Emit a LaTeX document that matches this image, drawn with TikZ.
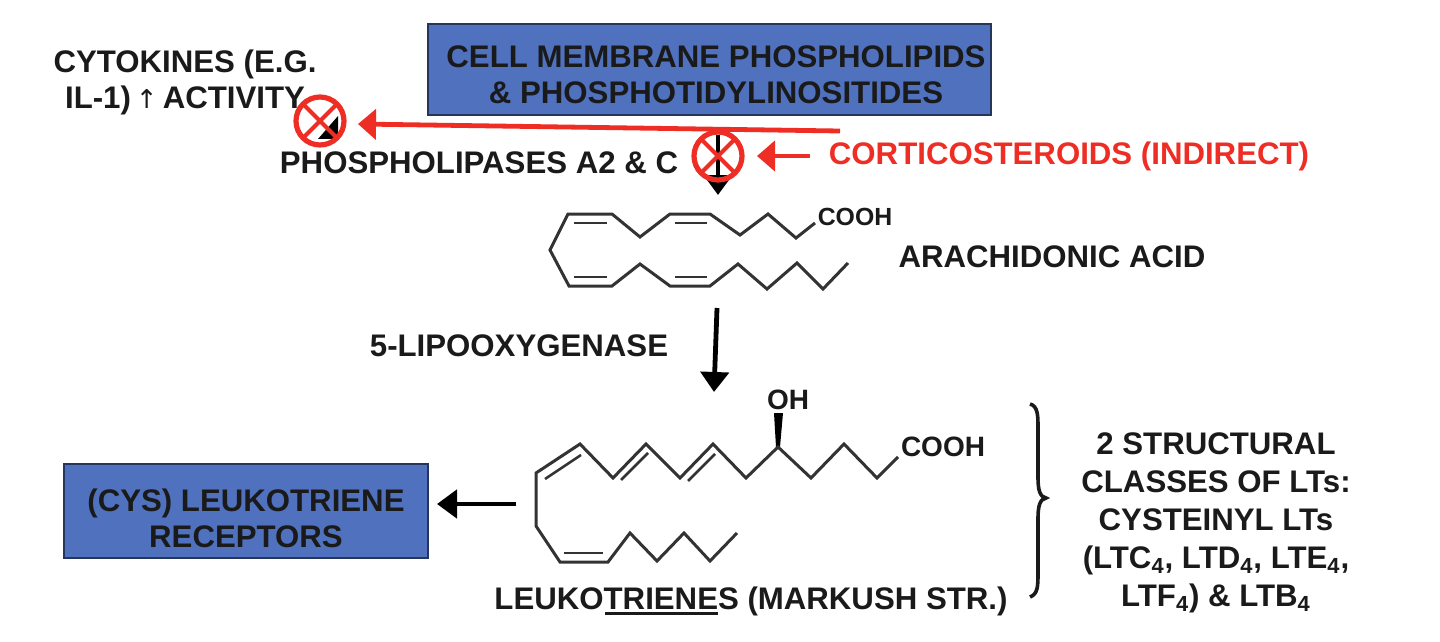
\documentclass[tikz,border=0pt]{standalone}
\usepackage{fontspec}
\setmainfont{Liberation Sans}[BoldFont={Liberation Sans Bold}]
\usetikzlibrary{arrows.meta}
\definecolor{boxblue}{HTML}{4F71BE}
\definecolor{boxedge}{HTML}{25355C}
\definecolor{inhib}{HTML}{EE2E24}
\definecolor{ink}{HTML}{1A1A1A}
\definecolor{bondc}{HTML}{333333}
\tikzset{
  lbl/.style={inner sep=0pt,outer sep=0pt,text=ink,font=\bfseries\fontsize{15.6}{18}\selectfont,align=center},
  bluebox/.style={draw=boxedge,line width=1.2pt,fill=boxblue,inner sep=0pt,outer sep=0pt},
  redlbl/.style={lbl,text=inhib},
  chem/.style={inner sep=0pt,outer sep=0pt,text=ink,font=\bfseries\fontsize{12.4}{14}\selectfont},
  bond/.style={draw=bondc,line width=1.5pt,line join=miter},
  blockmark/.style={circle,draw=inhib,line width=2.6pt,minimum size=24pt,inner sep=0pt,outer sep=0pt},
  redarrow/.style={draw=inhib,line width=2.4pt,-{Triangle[length=9pt,width=15pt]}},
  blackarrow/.style={draw=black,line width=2.4pt,-{Triangle[length=10pt,width=14pt]}},
  crossbar/.style={draw=inhib,line width=2pt},
}
\begin{document}
\begin{tikzpicture}[x=0.5pt,y=-0.5pt]
\useasboundingbox[fill=white] (0,0) rectangle (1440,642);

% boxes
\path[bluebox] (428,24) rectangle (991,115);
\node[lbl] (membrane) at (716,75) {CELL MEMBRANE PHOSPHOLIPIDS\\\& PHOSPHOTIDYLINOSITIDES};
\path[bluebox] (64,464) rectangle (428,558);
\node[lbl] (receptors) at (246,518) {(CYS) LEUKOTRIENE\\RECEPTORS};

% labels
\node[lbl] (cytokines) at (185,82) {CYTOKINES (E.G.\\IL-1)\hspace{2.5pt}{\normalfont\fontspec{DejaVu Sans}\fontsize{13}{14}\selectfont ↑}\hspace{2.5pt}ACTIVITY};
\node[lbl] (plases) at (479,163) {PHOSPHOLIPASES A2 \& C};
\node[redlbl] (cortico) at (1069,156) {CORTICOSTEROIDS (INDIRECT)};
\node[lbl] (aa) at (1052,257) {ARACHIDONIC ACID};
\node[lbl] (lox) at (519,346) {5-LIPOOXYGENASE};
\node[lbl] (lt) at (751,601) {LEUKOTRIENES (MARKUSH STR.)};
\draw[ink,line width=1.5pt] (605,613) -- (718,613);
\node[lbl,font=\bfseries\fontsize{15.6}{19}\selectfont] (classes) at (1216,523) {2 STRUCTURAL\\CLASSES OF LTs:\\CYSTEINYL LTs\\(LTC$_{\mathbf 4}$, LTD$_{\mathbf 4}$, LTE$_{\mathbf 4}$,\\LTF$_{\mathbf 4}$) \& LTB$_{\mathbf 4}$};

% black inhibited fragment and blocked arrow
\coordinate (blockTop) at (718,135);
\coordinate (blockTip) at (718,195);
\draw[blackarrow] (blockTop) -- (blockTip);
\fill[black] (338,116) -- (338,139) -- (318,139) -- cycle;

% blocking circles
\node[blockmark] (blockL) at (320,121) {};
\node[blockmark] (blockR) at (718,156) {};
\foreach \c in {blockL,blockR}{
  \draw[crossbar] (\c.north west) -- (\c.south east);
  \draw[crossbar] (\c.north east) -- (\c.south west);
}

% red arrows
\coordinate (redStart) at (840,131);
\coordinate (redTip) at (358,124);
\draw[redarrow] (redStart) -- (redTip);
\coordinate (cortStart) at (810,156);
\coordinate (cortTip) at (757,156);
\draw[redarrow] (cortStart) -- (cortTip);

% black arrows
\coordinate (loxStart) at (717,308);
\coordinate (loxTip) at (714,392);
\draw[blackarrow] (loxStart) -- (loxTip);
\coordinate (recStart) at (516,504);
\coordinate (recTip) at (437,504);
\draw[blackarrow] (recStart) -- (recTip);

% arachidonic acid
\node[chem] (cooh1) at (855,217) {COOH};
\draw[bond] (815,223) -- (796,238) -- (768,214) -- (740,235) -- (710,214) -- (670,214) -- (640,237) -- (612,214) -- (568,214) -- (550,250) -- (569,286) -- (612,286) -- (640,264) -- (670,286) -- (710,286) -- (738,264) -- (767,289) -- (797,263) -- (823,289) -- (848,263);
\foreach \a/\b/\yy in {574/607/223,675/707/223,574/607/277,675/707/277}
  \draw[bond,line width=1.3pt] (\a,\yy) -- (\b,\yy);

% leukotriene
\node[chem,font=\bfseries\fontsize{14}{16}\selectfont] (oh) at (788,400) {OH};
\node[chem,font=\bfseries\fontsize{14}{16}\selectfont] (cooh2) at (943,447) {COOH};
\fill[black] (776,447) -- (774,413) -- (783,413) -- (780,447) -- cycle;
\draw[bond] (898,457) -- (877,478) -- (844,444) -- (811,478) -- (778,447) -- (746,478) -- (713,444) -- (680,478) -- (646,444) -- (613,478) -- (580,444) -- (536,473) -- (536,526) -- (560,562) -- (608,562) -- (630,533) -- (657,561) -- (684,533) -- (710,561) -- (737,533);
\draw[bond,line width=1.3pt] (545,479) -- (581,455);
\draw[bond,line width=1.3pt] (621,480) -- (648,453);
\draw[bond,line width=1.3pt] (688,481) -- (715,454);
\draw[bond,line width=1.3pt] (564,553) -- (603,553);

% brace
\draw[ink,line width=1.8pt] (1030,404) .. controls (1038,406) and (1038,416) .. (1038,428) -- (1038,478) .. controls (1038,490) and (1040,497) .. (1046,498) .. controls (1040,499) and (1038,506) .. (1038,518) -- (1038,572) .. controls (1038,586) and (1038,594) .. (1030,597);
\end{tikzpicture}
\end{document}
